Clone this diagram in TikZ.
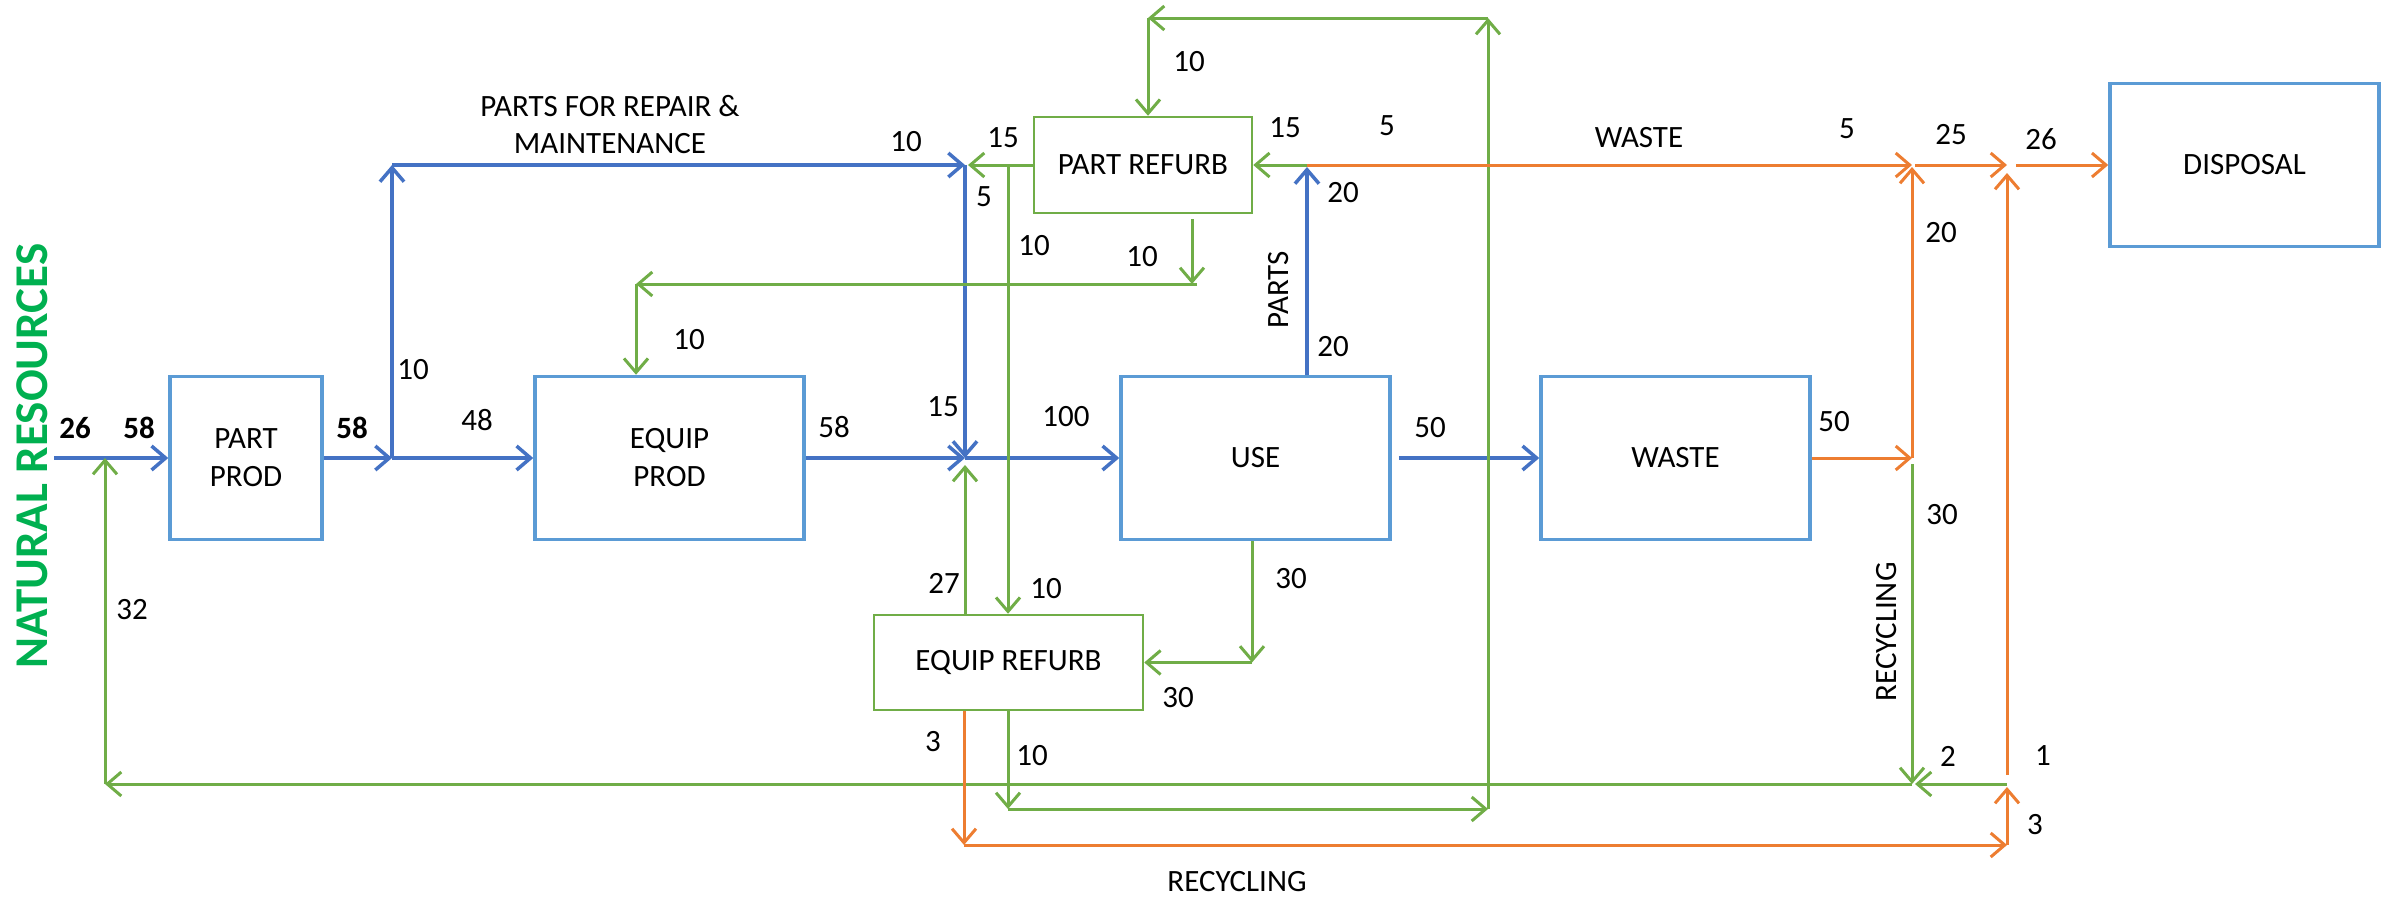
\documentclass[tikz,border=0pt]{standalone}
\usepackage{fontspec}
\setmainfont{Carlito}
\usetikzlibrary{arrows.meta}
\definecolor{cblue}{HTML}{4472C4}
\definecolor{cbox}{HTML}{5B9BD5}
\definecolor{cgreen}{HTML}{70AD47}
\definecolor{corange}{HTML}{ED7D31}
\definecolor{cnat}{HTML}{00B050}
\begin{document}
\begin{tikzpicture}[x=1pt,y=-1pt,
  >={Straight Barb[length=14pt,width=24pt]},
  txt/.style={font=\fontsize{31}{37}\selectfont, inner sep=0pt},
  bld/.style={font=\fontsize{31}{37}\selectfont\bfseries, inner sep=0pt},
  mbox/.style={draw=cbox, line width=3.5pt, align=center, inner sep=0pt, font=\fontsize{31}{38}\selectfont},
  gbox/.style={draw=cgreen, line width=2.5pt, align=center, inner sep=0pt, font=\fontsize{31}{38}\selectfont},
  bar/.style={draw=cblue, line width=3.5pt, ->},
  gar/.style={draw=cgreen, line width=3pt, ->},
  oar/.style={draw=corange, line width=3pt, ->}]
\useasboundingbox (0,0) rectangle (2392,897);

% boxes
\node[mbox, minimum width=152pt, minimum height=163pt] (pp) at (246,458) {PART\\PROD};
\node[mbox, minimum width=269pt, minimum height=163pt] (ep) at (669.5,458) {EQUIP\\PROD};
\node[mbox, minimum width=269pt, minimum height=163pt] (use) at (1255.5,458) {USE};
\node[mbox, minimum width=269pt, minimum height=163pt] (wst) at (1675.5,458) {WASTE};
\node[mbox, minimum width=269pt, minimum height=163pt] (disp) at (2244.5,165) {DISPOSAL};
\node[gbox, minimum width=218pt, minimum height=96pt] (prf) at (1143,165) {PART REFURB};
\node[gbox, minimum width=269pt, minimum height=95pt] (erf) at (1008.5,662.5) {EQUIP REFURB};

% coordinates
\coordinate (nr) at (54,458);
\coordinate (j0) at (105,458);
\coordinate (j1) at (392,458);
\coordinate (j1t) at (392,165);
\coordinate (j2) at (965,458);
\coordinate (j2t) at (965,165);
\coordinate (gv) at (1008,165);
\coordinate (pj) at (1307,165);
\coordinate (wj) at (1912,165);
\coordinate (wj2) at (2007,165);
\coordinate (wb) at (1912,458);
\coordinate (rb) at (1912,784);
\coordinate (ob) at (2007,784);
\coordinate (ob2) at (2007,845);
\coordinate (lb) at (105,784);
\coordinate (g0) at (1192,284);
\coordinate (g1) at (1197,284);
\coordinate (g2) at (636,284);
\coordinate (t1) at (1488,18);
\coordinate (t2) at (1148,18);
\coordinate (t3) at (1488,809);
\coordinate (t4) at (1008,809);
\coordinate (u1) at (1252,662.5);
\coordinate (o1) at (964,845);

% blue flows
\draw[bar] (nr) -- (pp.west);
\draw[bar] (pp.east) -- (j1);
\draw[bar] (j1) -- (ep.west);
\draw[bar] (j1) -- (j1t);
\draw[bar] (j1t) -- (j2t);
\draw[bar] (j2t) -- (j2);
\draw[bar] (ep.east) -- (j2);
\draw[bar] (j2) -- (use.west);
\draw[bar, shorten <=7pt] (use.east) -- (wst.west);
\draw[bar, shorten >=2pt] (use.north -| pj) -- (pj);

% green flows
\draw[gar, shorten >=3pt] (prf.west) -- (j2t);
\draw[gar] (gv) -- (gv |- erf.north);
\draw[gar, shorten >=7pt] (erf.north -| j2) -- (j2);
\draw[gar, shorten <=5pt] (prf.south -| g0) -- (g0);
\draw[gar] (g1) -- (g2);
\draw[gar] (g2) -- (ep.north -| g2);
\draw[gar] (erf.south -| t4) -- (t4);
\draw[gar] (t4) -- (t3);
\draw[gar] (t3) -- (t1);
\draw[gar] (t1) -- (t2);
\draw[gar] (t2) -- (prf.north -| t2);
\draw[gar] (use.south -| u1) -- (u1);
\draw[gar] (u1) -- (erf.east);
\draw[gar] (pj) -- (prf.east);
\draw[gar, shorten <=6pt] (wb) -- (rb);
\draw[gar, shorten >=3pt] (ob) -- (rb);
\draw[gar] (rb) -- (lb);
\draw[gar] (lb) -- (j0);

% orange flows
\draw[oar] (pj) -- (wj);
\draw[oar, shorten <=3pt] (wj) -- (wj2);
\draw[oar, shorten <=9pt] (wj2) -- (disp.west);
\draw[oar, shorten >=2pt] (wb) -- (wj);
\draw[oar] (wst.east) -- (wb);
\draw[oar, shorten <=9pt, shorten >=8pt] (ob) -- (wj2);
\draw[oar] (erf.south -| o1) -- (o1);
\draw[oar] (o1) -- (ob2);
\draw[oar, shorten >=3pt] (ob2) -- (ob);

% bold labels
\node[bld] (l26a) at (75,428) {26};
\node[bld] (l58a) at (139,428) {58};
\node[bld] (l58b) at (352,428) {58};

% numeric labels
\node[txt] (n1) at (413,370) {10};
\node[txt] (n2) at (132,610) {32};
\node[txt] (n3) at (477,420) {48};
\node[txt] (n4) at (689,340) {10};
\node[txt] (n5) at (834,427) {58};
\node[txt] (n6) at (943,407) {15};
\node[txt] (n7) at (906,142) {10};
\node[txt] (n8) at (1003,138) {15};
\node[txt] (n9) at (984,197) {5};
\node[txt] (n10) at (1034,246) {10};
\node[txt] (n11) at (1142,257) {10};
\node[txt] (n12) at (1189,62) {10};
\node[txt] (n13) at (1285,128) {15};
\node[txt] (n14) at (1387,126) {5};
\node[txt] (n15) at (1343,193) {20};
\node[txt] (n16) at (1333,347) {20};
\node[txt] (n17) at (1066,417) {100};
\node[txt] (n18) at (1430,428) {50};
\node[txt] (n19) at (1847,129) {5};
\node[txt] (n20) at (1951,135) {25};
\node[txt] (n21) at (2041,139) {26};
\node[txt] (n22) at (1941,233) {20};
\node[txt] (n23) at (1834,422) {50};
\node[txt] (n24) at (1942,515) {30};
\node[txt] (n25) at (1948,756) {2};
\node[txt] (n26) at (2043,756) {1};
\node[txt] (n27) at (2035,825) {3};
\node[txt] (n28) at (944,583) {27};
\node[txt] (n29) at (1046,589) {10};
\node[txt] (n30) at (1291,579) {30};
\node[txt] (n31) at (1178,698) {30};
\node[txt] (n32) at (933,742) {3};
\node[txt] (n33) at (1032,756) {10};

% text labels
\node[txt, align=center] (prm) at (610,125) {PARTS FOR REPAIR \&\\MAINTENANCE};
\node[txt] (wl) at (1639,138) {WASTE};
\node[txt, rotate=90] (pl) at (1279,290) {PARTS};
\node[txt, rotate=90] (rl1) at (1887,632) {RECYCLING};
\node[txt] (rl2) at (1237,882) {RECYCLING};
\node[inner sep=0pt, rotate=90, text=cnat, font=\fontsize{47}{50}\selectfont\bfseries] (nat) at (32,456) {NATURAL RESOURCES};
\end{tikzpicture}
\end{document}
